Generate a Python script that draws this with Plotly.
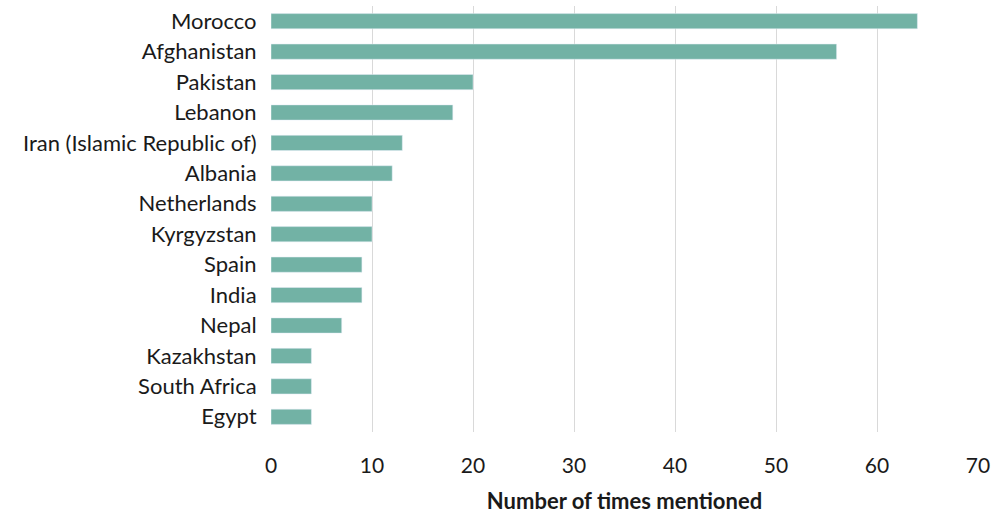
import plotly.graph_objects as go

countries = [
    "Morocco", "Afghanistan", "Pakistan", "Lebanon", "Iran (Islamic Republic of)",
    "Albania", "Netherlands", "Kyrgyzstan", "Spain", "India", "Nepal",
    "Kazakhstan", "South Africa", "Egypt",
]
mentions = [64, 56, 20, 18, 13, 12, 10, 10, 9, 9, 7, 4, 4, 4]

FONT = "Lato, 'Open Sans', sans-serif"

fig = go.Figure(
    go.Bar(
        x=mentions,
        y=countries,
        orientation="h",
        marker=dict(color="#72B2A5"),
        width=0.5,
    )
)

fig.update_layout(
    width=995,
    height=516,
    margin=dict(l=271, r=17, t=6, b=84),
    plot_bgcolor="white",
    paper_bgcolor="white",
    font=dict(family=FONT, size=21, color="#1a1a1a"),
    showlegend=False,
)

fig.update_xaxes(
    range=[0, 70],
    dtick=10,
    showgrid=True,
    gridcolor="#D9D9D9",
    gridwidth=1,
    zeroline=False,
    showline=False,
    ticks="outside",
    ticklen=15,
    tickcolor="rgba(0,0,0,0)",
    tickfont=dict(size=21),
    automargin=False,
    title=dict(
        text="<b>Number of times mentioned</b>",
        font=dict(size=22, family=FONT),
        standoff=17,
    ),
)

fig.update_yaxes(
    autorange="reversed",
    showgrid=False,
    showline=False,
    ticks="outside",
    ticklen=9,
    tickcolor="rgba(0,0,0,0)",
    tickfont=dict(size=22),
    automargin=False,
)

# the page body has a default 8px margin; drop it so the figure fills the window
fig.write_html(
    "out.html",
    config={"displayModeBar": False},
    post_script="document.body.style.margin='0';",
)
